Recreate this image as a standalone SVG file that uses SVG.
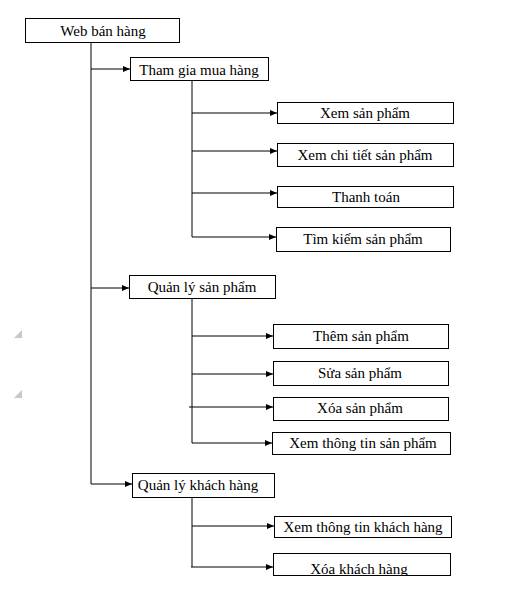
<svg xmlns="http://www.w3.org/2000/svg" width="506" height="595" viewBox="0 0 506 595">
<style>
.box{fill:#fff;stroke:#000;stroke-width:1}
.t{font-family:"Liberation Serif","Times New Roman",serif;font-size:15px;fill:#000;text-anchor:middle}
.c{stroke:#000;stroke-width:1;fill:none}
.a{stroke:#000;stroke-width:1;fill:none;marker-end:url(#ah)}
</style>
<defs>
<marker id="ah" markerUnits="userSpaceOnUse" markerWidth="7" markerHeight="6" refX="7" refY="3" orient="auto">
<path d="M0,0 L7,3 L0,6 z" fill="#000"/>
</marker>
<clipPath id="clipLast"><rect x="273" y="553" width="178" height="22"/></clipPath>
</defs>
<rect width="506" height="595" fill="#fff"/>
<g id="anchors" fill="#c8c8c8">
<polygon points="22,330 22,338 14,338"/>
<polygon points="22,390 22,398 14,398"/>
</g>
<g id="connectors">
<line class="c" x1="91" y1="43" x2="91" y2="484"/>
<line class="a" x1="91" y1="69" x2="130" y2="69"/>
<line class="a" x1="91" y1="288" x2="129" y2="288"/>
<line class="a" x1="91" y1="484" x2="132" y2="484"/>
<line class="c" x1="192" y1="81" x2="192" y2="237"/>
<line class="a" x1="192" y1="113" x2="277" y2="113"/>
<line class="a" x1="192" y1="151" x2="277" y2="151"/>
<line class="a" x1="192" y1="193" x2="277" y2="193"/>
<line class="a" x1="192" y1="237" x2="276" y2="237"/>
<line class="c" x1="192" y1="299" x2="192" y2="443"/>
<line class="a" x1="192" y1="336" x2="273" y2="336"/>
<line class="a" x1="192" y1="374" x2="273" y2="374"/>
<line class="a" x1="189" y1="407" x2="273" y2="407"/>
<line class="a" x1="192" y1="443" x2="272" y2="443"/>
<line class="c" x1="192" y1="498" x2="192" y2="567"/>
<line class="a" x1="192" y1="526" x2="274" y2="526"/>
<line class="a" x1="191" y1="567" x2="273" y2="567"/>
</g>
<g id="n-web"><rect class="box" x="25.5" y="18.5" width="154" height="24"/><text class="t" x="103" y="35.5">Web bán hàng</text></g>
<g id="n-thamgia"><rect class="box" x="130.5" y="57.5" width="138" height="23"/><text class="t" x="199" y="74.5">Tham gia mua hàng</text></g>
<g id="n-xemsp"><rect class="box" x="277.5" y="102.5" width="176" height="21"/><text class="t" x="365" y="118">Xem sản phẩm</text></g>
<g id="n-xemct"><rect class="box" x="277.5" y="143.5" width="176" height="23"/><text class="t" x="365" y="160">Xem chi tiết sản phẩm</text></g>
<g id="n-thanhtoan"><rect class="box" x="277.5" y="186.5" width="176" height="21"/><text class="t" x="366" y="202">Thanh toán</text></g>
<g id="n-timkiem"><rect class="box" x="276.5" y="227.5" width="174" height="24"/><text class="t" x="363" y="244">Tìm kiếm sản phẩm</text></g>
<g id="n-qlsp"><rect class="box" x="129.5" y="275.5" width="146" height="23"/><text class="t" x="202" y="292">Quản lý sản phẩm</text></g>
<g id="n-them"><rect class="box" x="273.5" y="324.5" width="175" height="24"/><text class="t" x="361" y="341">Thêm sản phẩm</text></g>
<g id="n-sua"><rect class="box" x="273.5" y="361.5" width="175" height="24"/><text class="t" x="360" y="378">Sửa sản phẩm</text></g>
<g id="n-xoasp"><rect class="box" x="273.5" y="397.5" width="175" height="23"/><text class="t" x="360" y="413">Xóa sản phẩm</text></g>
<g id="n-xemttsp"><rect class="box" x="272.5" y="432.5" width="178" height="22"/><text class="t" x="363" y="448">Xem thông tin sản phẩm</text></g>
<g id="n-qlkh"><rect class="box" x="132.5" y="473.5" width="142" height="24"/><text class="t" x="198" y="490">Quản lý khách hàng</text></g>
<g id="n-xemttkh"><rect class="box" x="274.5" y="516.5" width="177" height="21"/><text class="t" x="363" y="532">Xem thông tin khách hàng</text></g>
<g id="n-xoakh"><rect class="box" x="273.5" y="553.5" width="177" height="22"/><text class="t" x="359" y="574" clip-path="url(#clipLast)">Xóa khách hàng</text></g>
</svg>
